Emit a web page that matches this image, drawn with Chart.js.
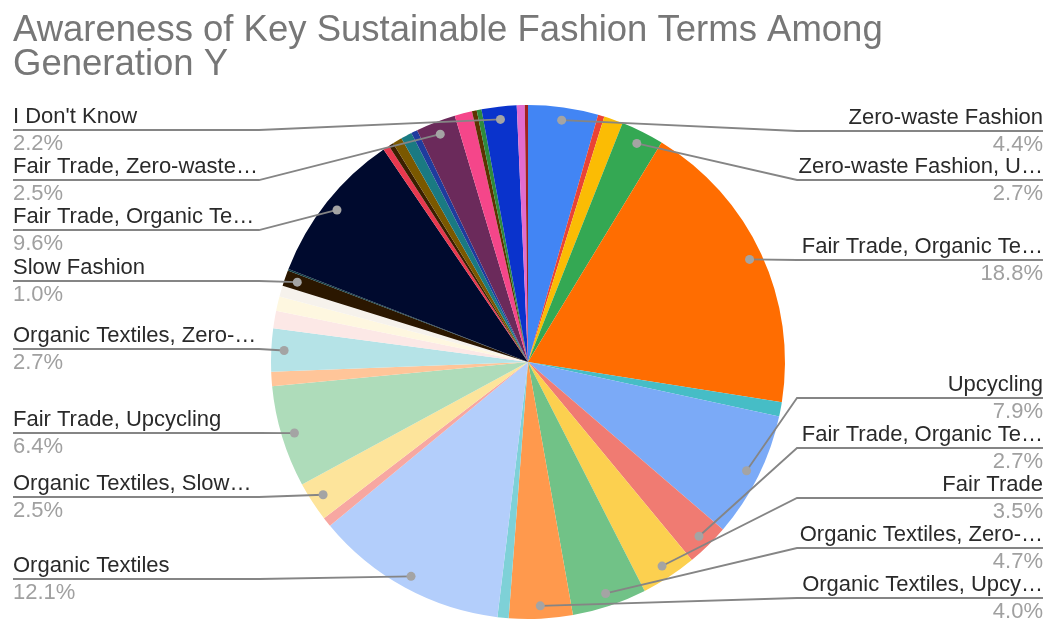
<!DOCTYPE html>
<html>
<head>
<meta charset="utf-8">
<script src="https://cdn.jsdelivr.net/npm/chart.js@4"></script>
<style>
  html, body { margin: 0; padding: 0; background: #fff; }
  #wrap { width: 1050px; height: 621px; position: relative; }
</style>
</head>
<body>
<div id="wrap"><canvas id="pie"></canvas></div>
<script>
// ------------------------------------------------------------
// Awareness of sustainable fashion terms (Generation Y) — pie
// ------------------------------------------------------------

const TITLE_LINES = ["Awareness of Key Sustainable Fashion Terms Among", "Generation Y"];

// slice names, clockwise from 12 o'clock (unlabelled slivers left blank)
const categories = [
    "Zero-waste Fashion", "", "", "Zero-waste Fashion, U…", "Fair Trade, Organic Te…",
    "", "Upcycling", "Fair Trade, Organic Te…", "Fair Trade", "Organic Textiles, Zero-…",
    "Organic Textiles, Upcy…", "", "Organic Textiles", "", "Organic Textiles, Slow…",
    "Fair Trade, Upcycling", "", "Organic Textiles, Zero-…", "", "",
    "", "Slow Fashion", "", "Fair Trade, Organic Te…", "",
    "", "", "", "", "Fair Trade, Zero-waste…",
    "", "", "", "I Don't Know", "", ""
];

// share of respondents, %
const shares = [
    4.4, 0.4, 1.2, 2.7, 18.8,
    0.9, 7.9, 2.7, 3.5, 4.7,
    4.0, 0.7, 12.1, 0.6, 2.5,
    6.4, 0.9, 2.7, 1.1, 0.9,
    0.7, 1.0, 0.1, 9.6, 0.4,
    0.3, 0.6, 0.7, 0.4, 2.5,
    1.1, 0.3, 0.3, 2.2, 0.5, 0.2
];

const sliceColors = [
    "#4285F4", "#EA4335", "#FBBC04", "#34A853", "#FF6D01",
    "#46BDC6", "#7BAAF7", "#F07B72", "#FCD04F", "#71C287",
    "#FF994D", "#7ED1D7", "#B3CEFB", "#F7A7A1", "#FDE49B",
    "#AEDCBA", "#FFC599", "#B5E3E7", "#FCE8E6", "#FEF7E0",
    "#F6F2EC", "#2B1700", "#0F3B44", "#000A2E", "#E8384F",
    "#3A1F00", "#7A5800", "#1A7A82", "#1F3C9E", "#6B2A5B",
    "#F5468A", "#5C3300", "#2E8B3D", "#0A33CC", "#E26CCF", "#A0221E"
];

// which slices get an outside label, and where its leader line sits
const calloutSlices = [0, 3, 4, 6, 7, 8, 9, 10, 33, 29, 23, 21, 17, 15, 14, 12];
const calloutSide   = ["R", "R", "R", "R", "R", "R", "R", "R", "L", "L", "L", "L", "L", "L", "L", "L"];
const calloutLineY  = [131, 180, 260, 398, 448, 498, 548, 598, 130, 180, 230, 281, 349, 433, 497, 579];

const FONT = "'Liberation Sans', Arial, sans-serif";
const LEFT_X = 13;
const RIGHT_X = 1043;

const calloutPlugin = {
    id: "callouts",
    afterDatasetsDraw(chart) {
        const ctx = chart.ctx;
        const arcs = chart.getDatasetMeta(0).data;
        const total = shares.reduce((a, b) => a + b, 0);

        ctx.save();

        // title
        ctx.fillStyle = "#777777";
        ctx.font = "36.5px " + FONT;
        ctx.textAlign = "left";
        ctx.textBaseline = "alphabetic";
        ctx.fillText(TITLE_LINES[0], LEFT_X, 41);
        ctx.fillText(TITLE_LINES[1], LEFT_X, 75);

        calloutSlices.forEach((idx, k) => {
            const arc = arcs[idx];
            const p = arc.getProps(["x", "y", "startAngle", "endAngle", "outerRadius"], true);
            const mid = (p.startAngle + p.endAngle) / 2;
            const dotX = p.x + Math.cos(mid) * p.outerRadius * 0.95;
            const dotY = p.y + Math.sin(mid) * p.outerRadius * 0.95;
            const lineY = calloutLineY[k];
            const right = calloutSide[k] === "R";
            const edgeX = right ? RIGHT_X : LEFT_X;
            const bendX = right ? p.x + p.outerRadius + 12 : p.x - p.outerRadius - 12;

            // leader line
            ctx.strokeStyle = "#858585";
            ctx.lineWidth = 1.8;
            ctx.beginPath();
            ctx.moveTo(edgeX, lineY);
            ctx.lineTo(bendX, lineY);
            ctx.lineTo(dotX, dotY);
            ctx.stroke();

            ctx.fillStyle = "#a4a4a4";
            ctx.beginPath();
            ctx.arc(dotX, dotY, 4.5, 0, Math.PI * 2);
            ctx.fill();

            // name and percentage
            ctx.textAlign = right ? "right" : "left";
            ctx.font = "22px " + FONT;
            ctx.fillStyle = "#2a2a2a";
            ctx.fillText(categories[idx], edgeX, lineY - 7);
            ctx.fillStyle = "#a0a0a0";
            ctx.fillText((shares[idx] / total * 100).toFixed(1) + "%", edgeX, lineY + 20);
        });

        ctx.restore();
    }
};

new Chart(document.getElementById("pie"), {
    type: "pie",
    data: {
        labels: categories,
        datasets: [{
            data: shares,
            backgroundColor: sliceColors,
            borderWidth: 0
        }]
    },
    options: {
        responsive: true,
        maintainAspectRatio: false,
        animation: false,
        layout: { padding: { left: 271, right: 265, top: 105, bottom: 2 } },
        plugins: {
            legend: { display: false },
            title: { display: false },
            tooltip: { enabled: false }
        }
    },
    plugins: [calloutPlugin]
});
</script>
</body>
</html>
